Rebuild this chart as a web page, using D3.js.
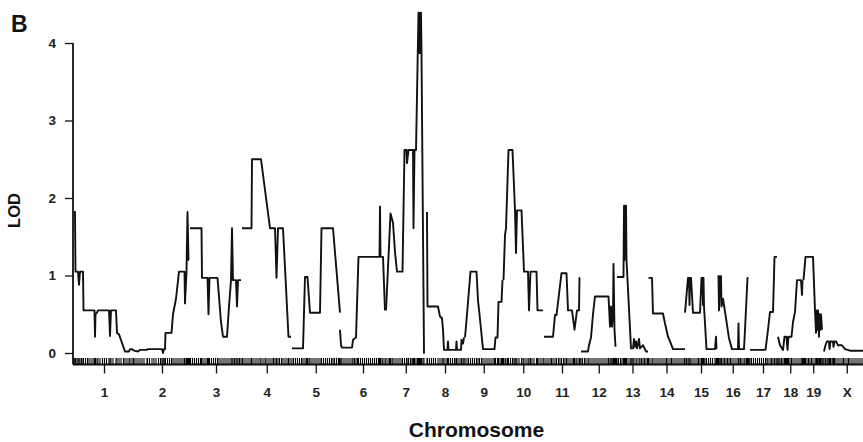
<!DOCTYPE html>
<html>
<head>
<meta charset="utf-8">
<script src="https://cdn.jsdelivr.net/npm/d3@7"></script>
<style>
  body { margin: 0; background: #fff; }
  text { font-family: "Liberation Sans", Arial, Helvetica, sans-serif; }
</style>
</head>
<body>
<svg width="863" height="442"></svg>
<script>
// chromosome names and map lengths (cM)
var chromosomes = ["1","2","3","4","5","6","7","8","9","10","11","12","13","14","15","16","17","18","19","X"];
var chrLength = [120,112,104,99,97,92,79,78,77,81,74,73,62,74,64,63,58,51,41,93];
var lodTicks = [0, 1, 2, 3, 4];

// LOD profile per chromosome: [position within chromosome (cM), LOD]
var lod1 = [[0,1.82],[2,1.82],[3,1.05],[8,1.05],[10,0.88],[12,1.05],[18,1.05],[19,0.55],[41,0.55],[42,0.21],[43,0.5],[46,0.52],[48,0.55],[70,0.55],[72,0.22],[74,0.55],[84,0.55],[86,0.26],[90,0.24],[102,0.02],[110,0.02],[112,0.05],[116,0.05],[120,0.03]];
var lod2 = [[0,0.03],[8,0.02],[12,0.04],[26,0.04],[27,0.05],[56,0.05],[58,0],[60,0.05],[62,0.05],[63,0.26],[75,0.26],[78,0.5],[84,0.7],[90,1.05],[101,1.05],[102,0.64],[105,1.05],[107,1.82],[109,1.2],[110,1.2]];
var lod3 = [[0,1.61],[23,1.61],[24,0.97],[35,0.97],[37,0.5],[39,0.97],[55,0.97],[62,0.4],[66,0.21],[74,0.21],[78,0.6],[82,0.94],[84,1.61],[86,0.94],[92,0.94],[94,0.6],[96,0.94],[102,0.94]];
var lod4 = [[0,1.61],[19,1.61],[20,2.5],[38,2.5],[56,1.61],[66,1.61],[69,0.97],[72,1.61],[82,1.61],[93,0.21],[98,0.21]];
var lod5 = [[1,0.06],[23,0.06],[27,0.98],[32,0.98],[37,0.52],[57,0.52],[60,1.61],[83,1.61],[97,0.52]];
var lod6 = [[0,0.3],[2,0.1],[4,0.07],[24,0.07],[26,0.17],[32,0.2],[37,1.24],[79,1.24],[80,1.89],[81,1.24],[86,1.24],[90,0.55]];
var lod7 = [[0,0.55],[4,1.1],[9,1.8],[14,1.68],[18,1.3],[22,1.05],[33,1.05],[37,2.62],[41,2.62],[42,2.45],[45,2.62],[54,2.62],[55,1.61],[57,2.62],[60,2.62],[65,4.39],[67,3.87],[68,4.39],[69,3.87],[70,4.39],[71,3.87],[76,0],[77,0]];
var lod8 = [[3,1.82],[4,0.6],[25,0.6],[29,0.47],[33,0.45],[35,0.3],[37,0.04],[44,0.04],[45,0.15],[46,0.04],[61,0.04],[62,0.15],[63,0.04],[71,0.04],[72,0.17],[75,0.12],[77,0.2]];
var lod9 = [[1,0.2],[5,0.5],[12,1.05],[24,1.05],[27,0.68],[30,0.5],[37,0.05],[60,0.05],[62,0.2],[66,0.2],[68,0.66],[74,0.66],[76,0.94]];
var lod10 = [[1,0.94],[4,1.52],[6,1.61],[11,2.62],[19,2.62],[24,1.84],[26,1.29],[28,1.84],[37,1.84],[42,1.05],[50,1.05],[52,0.55],[55,1.05],[67,1.05],[69,0.55],[80,0.55]];
var lod11 = [[1,0.21],[19,0.21],[23,0.49],[26,0.49],[36,1.03],[46,1.03],[49,0.55],[57,0.55],[62,0.3],[67,0.55],[71,0.55],[72,0.97],[73,0.97]];
var lod12 = [[1,0.02],[15,0.02],[17,0.1],[21,0.2],[25,0.5],[29,0.73],[56,0.73],[59,0.34],[61,0.6],[63,0.34],[65,0.5],[66,1.15],[68,0.3],[70,0.08]];
var lod13 = [[0,0.98],[13,0.98],[14,1.9],[15,1.2],[16,1.9],[17,1.3],[18,1.9],[19,1.2],[28,0.06],[32,0.06],[34,0.18],[36,0.08],[38,0.15],[40,0.06],[44,0.18],[46,0.06],[52,0.1],[58,0.02],[62,0.02]];
var lod14 = [[1,0.97],[8,0.97],[10,0.51],[30,0.51],[34,0.38],[40,0.21],[44,0.15],[50,0.05],[74,0.05]];
var lod15 = [[0,0.52],[6,0.97],[8,0.97],[9,0.62],[10,0.97],[12,0.97],[16,0.52],[30,0.52],[33,0.97],[35,0.97],[36,0.62],[37,0.97],[38,0.6],[43,0.05],[60,0.05],[62,0.21],[63,0.05]];
var lod16 = [[1,0.99],[3,0.99],[4,0.55],[6,0.99],[8,0.99],[9,0.6],[12,0.7],[18,0.45],[24,0.19],[30,0.05],[42,0.05],[43,0.38],[44,0.05],[54,0.05],[56,0.3],[59,0.7],[61,0.97],[63,0.97]];
var lod17 = [[3,0.04],[34,0.04],[39,0.3],[43,0.53],[49,0.53],[52,1.24],[57,1.24]];
var lod18 = [[1,0.21],[5,0.1],[11,0.04],[14,0.21],[18,0.21],[20,0.04],[22,0.21],[28,0.21],[31,0.4],[35,0.53],[39,0.94],[47,0.94],[49,0.75],[50,0.94]];
var lod19 = [[1,0.94],[5,1.24],[20,1.24],[24,0.55],[26,0.26],[27,0.55],[29,0.3],[30,0.55],[32,0.21],[33,0.5],[35,0.3],[36,0.5],[38,0.3]];
var lodX = [[1,0.02],[4,0.1],[7,0.15],[11,0.15],[12,0.05],[14,0.15],[19,0.15],[20,0.08],[22,0.15],[25,0.15],[29,0.1],[37,0.1],[43,0.05],[53,0.03],[80,0.03]];

// genotyped marker positions per chromosome (cM)
var mk1 = [0,2,3,6,8,10,12,15,18,19,23,27,30,34,38,41,42,43,46,48,52,57,61,65,70,72,74,78,84,86,90,94,99,102,106,110,112,116,119];
var mk2 = [0,4,8,12,16,20,26,27,31,36,40,44,49,53,56,58,60,62,63,67,71,75,78,82,86,90,94,98,101,102,105,107,109,111];
var mk3 = [1,5,9,13,17,21,23,24,28,32,35,37,39,43,47,51,55,58,62,66,70,74,78,82,84,86,89,92,94,96,99,102];
var mk4 = [1,4,8,12,16,19,20,24,28,32,36,38,42,46,48,52,56,60,63,66,69,72,75,79,82,86,90,93,96];
var mk5 = [1,4,8,12,16,20,23,27,30,32,35,37,41,45,49,53,57,60,64,68,72,76,80,83,86,90,94,96];
var mk6 = [0,2,4,8,12,16,20,24,26,29,32,35,37,41,45,49,53,57,61,65,69,73,77,79,80,81,84,86,90];
var mk7 = [0,4,7,9,12,14,18,22,26,30,33,37,41,42,45,49,52,54,55,57,60,63,65,67,68,69,70,71,74,76];
var mk8 = [3,4,8,12,16,20,25,29,33,35,37,41,44,45,46,50,54,58,61,62,63,67,71,72,75,77];
var mk9 = [1,5,8,12,16,20,24,27,30,34,37,41,45,49,53,57,60,62,66,68,71,74,76];
var mk10 = [1,4,6,9,11,15,19,22,24,26,28,32,37,40,42,46,50,52,55,58,62,67,69,72,76,80];
var mk11 = [1,5,9,13,16,19,23,26,30,33,36,40,43,46,49,53,57,60,62,65,67,71,72,73];
var mk12 = [1,4,8,11,15,17,21,25,29,33,37,41,45,49,53,56,59,61,63,65,66,68,70,72];
var mk13 = [0,3,7,10,13,14,15,16,17,18,19,22,26,28,30,32,34,38,40,44,46,49,52,55,58,61];
var mk14 = [1,4,8,10,14,18,22,26,30,34,37,40,44,47,50,54,58,62,66,70,73];
var mk15 = [0,3,6,8,10,12,16,20,24,27,30,33,35,36,37,38,40,43,47,51,55,60,62,63];
var mk16 = [1,3,4,6,8,9,12,15,18,21,24,27,30,34,38,42,43,44,47,50,54,56,59,61,63];
var mk17 = [1,3,6,10,14,18,22,26,30,34,37,39,43,46,49,52,55,57];
var mk18 = [1,3,5,8,11,14,16,18,20,22,25,28,31,35,39,43,47,49,50];
var mk19 = [1,3,5,8,11,14,17,20,24,26,27,29,30,32,33,35,36,38,40];
var mkX = [1,4,7,9,11,12,14,17,19,20,22,25,29,33,37,40,43,47,50,53,57,61,65,69,73,77,81,85,89,92];

var lodByChr = [lod1,lod2,lod3,lod4,lod5,lod6,lod7,lod8,lod9,lod10,lod11,lod12,lod13,lod14,lod15,lod16,lod17,lod18,lod19,lodX];
var markersByChr = [mk1,mk2,mk3,mk4,mk5,mk6,mk7,mk8,mk9,mk10,mk11,mk12,mk13,mk14,mk15,mk16,mk17,mk18,mk19,mkX];

var svg = d3.select("svg");
var ink = "#111";

// cumulative chromosome offsets
var chrStart = [0];
chrLength.forEach(function(l, i) { chrStart.push(chrStart[i] + l); });
var chrMid = chrLength.map(function(l, i) { return chrStart[i] + l / 2; });

var x = d3.scaleLinear().domain([0, d3.sum(chrLength)]).range([74, 870]);
var y = d3.scaleLinear().domain([0, 4]).range([353, 43]);
var baseY = 364.5;

// y axis
var yAxis = svg.append("g")
    .attr("transform", "translate(73,0)")
    .call(d3.axisLeft(y).tickValues(lodTicks).tickSize(8).tickPadding(9).tickFormat(d3.format("d")));
yAxis.select(".domain").remove();
yAxis.selectAll("line").attr("stroke", ink).attr("stroke-width", 1.3);
yAxis.selectAll("text").attr("font-size", 13.5).attr("font-weight", "bold").attr("fill", "#222");
svg.append("line")
    .attr("x1", 73).attr("x2", 73)
    .attr("y1", y(4)).attr("y2", baseY)
    .attr("stroke", ink).attr("stroke-width", 1.8);

// x axis with chromosome labels
var xAxis = svg.append("g")
    .attr("transform", "translate(0," + baseY + ")")
    .call(d3.axisBottom(x).tickValues(chrMid).tickSize(9).tickPadding(14)
        .tickFormat(function(d, i) { return chromosomes[i]; }));
xAxis.select(".domain").remove();
xAxis.selectAll("line").attr("stroke", ink).attr("stroke-width", 1.3);
xAxis.selectAll("text").attr("font-size", 13.5).attr("font-weight", "bold").attr("fill", "#222");
svg.append("line")
    .attr("x1", 73).attr("x2", 863)
    .attr("y1", baseY).attr("y2", baseY)
    .attr("stroke", ink).attr("stroke-width", 1.8);

// marker rug
var rug = [];
markersByChr.forEach(function(m, i) {
  m.forEach(function(p) { rug.push(chrStart[i] + p); });
});
svg.append("g").selectAll("line")
    .data(rug)
    .enter()
    .append("line")
    .attr("x1", function(d) { return x(d); })
    .attr("x2", function(d) { return x(d); })
    .attr("y1", 358)
    .attr("y2", baseY)
    .attr("stroke", "#000")
    .attr("stroke-width", 1.1);

// LOD curves, one per chromosome
var line = d3.line()
    .x(function(d) { return x(d[0]); })
    .y(function(d) { return y(d[1]); });

svg.append("g").selectAll("path")
    .data(lodByChr.map(function(p, i) {
      return p.map(function(d) { return [chrStart[i] + d[0], d[1]]; });
    }))
    .enter()
    .append("path")
    .attr("d", line)
    .attr("fill", "none")
    .attr("stroke", ink)
    .attr("stroke-width", 1.9)
    .attr("stroke-linejoin", "round");

// titles
svg.append("text")
    .attr("x", 11).attr("y", 31.5)
    .attr("font-size", 23).attr("font-weight", "bold").attr("fill", ink)
    .text("B");

svg.append("text")
    .attr("transform", "translate(20,210.5) rotate(-90)")
    .attr("text-anchor", "middle")
    .attr("font-size", 16.5).attr("font-weight", "bold").attr("fill", ink)
    .text("LOD");

svg.append("text")
    .attr("x", 476.5).attr("y", 437)
    .attr("text-anchor", "middle")
    .attr("font-size", 21).attr("font-weight", "bold").attr("fill", ink)
    .text("Chromosome");
</script>
</body>
</html>
